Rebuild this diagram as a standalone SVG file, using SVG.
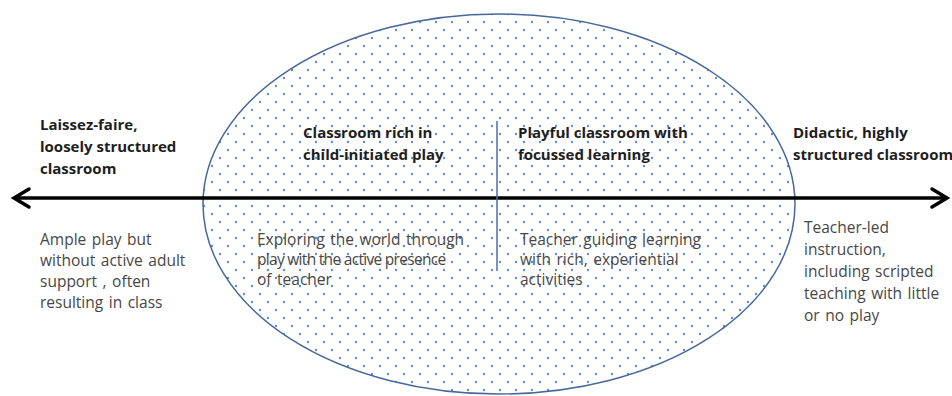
<svg xmlns="http://www.w3.org/2000/svg" width="952" height="396" viewBox="0 0 952 396">
  <defs>
    <pattern id="dots" patternUnits="userSpaceOnUse" width="16" height="16">
      <rect width="16" height="16" fill="#ffffff"/>
      <circle cx="4" cy="6" r="1.2" fill="#5b8ed8"/>
      <circle cx="12" cy="14" r="1.2" fill="#5b8ed8"/>
    </pattern>
  </defs>
  <style>
    .h { font-family: "Open Sans", "Liberation Sans", sans-serif; font-size: 15px; font-weight: bold; fill: #1e1e1e; }
    .b { font-family: "Open Sans", "Liberation Sans", sans-serif; font-size: 15.5px; word-spacing: 1.5px; fill: #474747; }
    .tight { word-spacing: 0px; letter-spacing: -0.7px; }
    .axis { stroke: #000000; stroke-width: 3.5; fill: none; }
    .head { stroke: #000000; stroke-width: 3.5; fill: none; stroke-linecap: round; stroke-linejoin: miter; }
    .divider { stroke: #4a6fa5; stroke-width: 1.5; }
  </style>
  <rect width="952" height="396" fill="#ffffff"/>

  <g id="ellipse-zone">
    <ellipse cx="499" cy="204" rx="296" ry="190" fill="url(#dots)" stroke="#46689a" stroke-width="1.5"/>
  </g>

  <g id="connectors">
    <line class="axis" x1="14" y1="198" x2="946" y2="198"/>
    <polyline class="head" points="29,189 14,198 29,207"/>
    <polyline class="head" points="932,189 947,198 932,207"/>
    <line class="divider" x1="497" y1="121" x2="497" y2="271"/>
  </g>

  <g id="laissez-faire">
    <text class="h" x="40" y="130">Laissez-faire,</text>
    <text class="h" x="40" y="152">loosely structured</text>
    <text class="h" x="40" y="174">classroom</text>
  </g>
  <g id="laissez-faire-desc">
    <text class="b" x="40" y="245">Ample play but</text>
    <text class="b" x="40" y="266">without active adult</text>
    <text class="b" x="40" y="287">support , often</text>
    <text class="b" x="40" y="308">resulting in class</text>
  </g>

  <g id="child-initiated">
    <text class="h" x="303" y="138">Classroom rich in</text>
    <text class="h" x="303" y="160">child-initiated play</text>
  </g>
  <g id="child-initiated-desc">
    <text class="b" x="257" y="245">Exploring the world through</text>
    <text class="b tight" x="257" y="265">play with the active presence</text>
    <text class="b" x="257" y="285">of teacher</text>
  </g>

  <g id="playful">
    <text class="h" x="518" y="138">Playful classroom with</text>
    <text class="h" x="518" y="160">focussed learning</text>
  </g>
  <g id="playful-desc">
    <text class="b" x="520" y="245">Teacher guiding learning</text>
    <text class="b" x="520" y="265">with rich, experiential</text>
    <text class="b" x="520" y="285">activities</text>
  </g>

  <g id="didactic">
    <text class="h" x="793" y="138">Didactic, highly</text>
    <text class="h" x="793" y="160">structured classroom</text>
  </g>
  <g id="didactic-desc">
    <text class="b" x="804" y="233">Teacher-led</text>
    <text class="b" x="804" y="255">instruction,</text>
    <text class="b" x="804" y="277">including scripted</text>
    <text class="b" x="804" y="299">teaching with little</text>
    <text class="b" x="804" y="321">or no play</text>
  </g>
</svg>
